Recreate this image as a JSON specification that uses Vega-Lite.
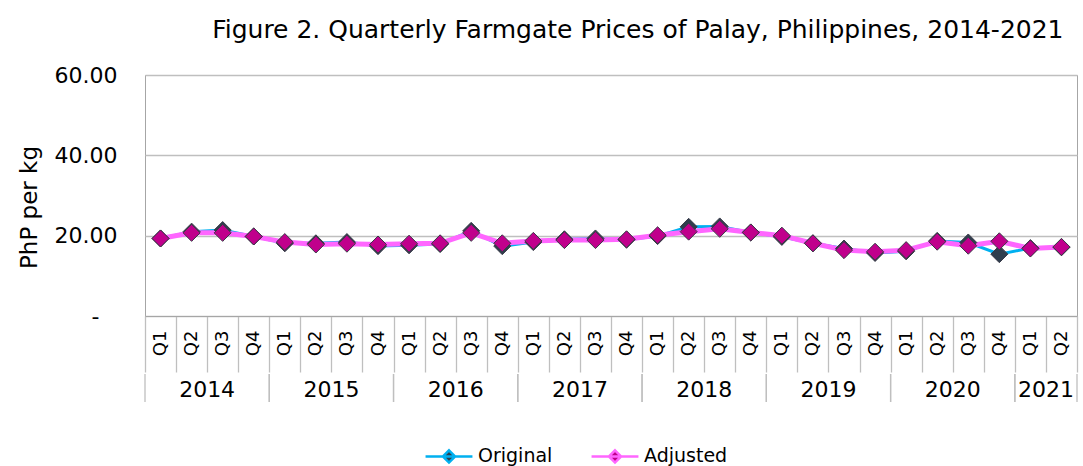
{
  "$schema": "https://vega.github.io/schema/vega-lite/v6.json",
  "padding": {"left": 17, "top": 17, "right": 5, "bottom": 5},
  "background": "white",
  "config": {"font": "DejaVu Sans"},
  "title": {"text": "Figure 2. Quarterly Farmgate Prices of Palay, Philippines, 2014-2021", "font": "DejaVu Sans", "fontSize": 25, "fontWeight": "normal", "color": "#000000", "anchor": "middle", "dx": 90, "offset": 21},
  "datasets": {
    "prices": [
      {"period": "2014 Q1", "series": "Original", "price": 19.3},
      {"period": "2014 Q2", "series": "Original", "price": 21.0},
      {"period": "2014 Q3", "series": "Original", "price": 21.4},
      {"period": "2014 Q4", "series": "Original", "price": 19.8},
      {"period": "2015 Q1", "series": "Original", "price": 18.1},
      {"period": "2015 Q2", "series": "Original", "price": 18.1},
      {"period": "2015 Q3", "series": "Original", "price": 18.4},
      {"period": "2015 Q4", "series": "Original", "price": 17.4},
      {"period": "2016 Q1", "series": "Original", "price": 17.6},
      {"period": "2016 Q2", "series": "Original", "price": 17.9},
      {"period": "2016 Q3", "series": "Original", "price": 21.2},
      {"period": "2016 Q4", "series": "Original", "price": 17.4},
      {"period": "2017 Q1", "series": "Original", "price": 18.4},
      {"period": "2017 Q2", "series": "Original", "price": 19.1},
      {"period": "2017 Q3", "series": "Original", "price": 19.3},
      {"period": "2017 Q4", "series": "Original", "price": 19.0},
      {"period": "2018 Q1", "series": "Original", "price": 19.9},
      {"period": "2018 Q2", "series": "Original", "price": 22.2},
      {"period": "2018 Q3", "series": "Original", "price": 22.3},
      {"period": "2018 Q4", "series": "Original", "price": 20.8},
      {"period": "2019 Q1", "series": "Original", "price": 19.7},
      {"period": "2019 Q2", "series": "Original", "price": 18.1},
      {"period": "2019 Q3", "series": "Original", "price": 16.8},
      {"period": "2019 Q4", "series": "Original", "price": 15.7},
      {"period": "2020 Q1", "series": "Original", "price": 16.1},
      {"period": "2020 Q2", "series": "Original", "price": 18.7},
      {"period": "2020 Q3", "series": "Original", "price": 18.3},
      {"period": "2020 Q4", "series": "Original", "price": 15.4},
      {"period": "2021 Q1", "series": "Original", "price": 16.9},
      {"period": "2021 Q2", "series": "Original", "price": 17.1},
      {"period": "2014 Q1", "series": "Adjusted", "price": 19.3},
      {"period": "2014 Q2", "series": "Adjusted", "price": 20.7},
      {"period": "2014 Q3", "series": "Adjusted", "price": 20.7},
      {"period": "2014 Q4", "series": "Adjusted", "price": 19.8},
      {"period": "2015 Q1", "series": "Adjusted", "price": 18.4},
      {"period": "2015 Q2", "series": "Adjusted", "price": 17.8},
      {"period": "2015 Q3", "series": "Adjusted", "price": 18.0},
      {"period": "2015 Q4", "series": "Adjusted", "price": 17.8},
      {"period": "2016 Q1", "series": "Adjusted", "price": 18.0},
      {"period": "2016 Q2", "series": "Adjusted", "price": 18.1},
      {"period": "2016 Q3", "series": "Adjusted", "price": 20.7},
      {"period": "2016 Q4", "series": "Adjusted", "price": 18.1},
      {"period": "2017 Q1", "series": "Adjusted", "price": 18.7},
      {"period": "2017 Q2", "series": "Adjusted", "price": 18.9},
      {"period": "2017 Q3", "series": "Adjusted", "price": 18.9},
      {"period": "2017 Q4", "series": "Adjusted", "price": 19.1},
      {"period": "2018 Q1", "series": "Adjusted", "price": 20.1},
      {"period": "2018 Q2", "series": "Adjusted", "price": 21.0},
      {"period": "2018 Q3", "series": "Adjusted", "price": 21.7},
      {"period": "2018 Q4", "series": "Adjusted", "price": 20.8},
      {"period": "2019 Q1", "series": "Adjusted", "price": 20.0},
      {"period": "2019 Q2", "series": "Adjusted", "price": 18.1},
      {"period": "2019 Q3", "series": "Adjusted", "price": 16.4},
      {"period": "2019 Q4", "series": "Adjusted", "price": 16.0},
      {"period": "2020 Q1", "series": "Adjusted", "price": 16.4},
      {"period": "2020 Q2", "series": "Adjusted", "price": 18.5},
      {"period": "2020 Q3", "series": "Adjusted", "price": 17.5},
      {"period": "2020 Q4", "series": "Adjusted", "price": 18.6},
      {"period": "2021 Q1", "series": "Adjusted", "price": 16.8},
      {"period": "2021 Q2", "series": "Adjusted", "price": 17.2}
    ],
    "years": [
      {"year": "2014", "anchor": "2014 Q3", "start": "2014 Q1", "last": "2014 Q4"},
      {"year": "2015", "anchor": "2015 Q3", "start": "2015 Q1", "last": "2015 Q4"},
      {"year": "2016", "anchor": "2016 Q3", "start": "2016 Q1", "last": "2016 Q4"},
      {"year": "2017", "anchor": "2017 Q3", "start": "2017 Q1", "last": "2017 Q4"},
      {"year": "2018", "anchor": "2018 Q3", "start": "2018 Q1", "last": "2018 Q4"},
      {"year": "2019", "anchor": "2019 Q3", "start": "2019 Q1", "last": "2019 Q4"},
      {"year": "2020", "anchor": "2020 Q3", "start": "2020 Q1", "last": "2020 Q4"},
      {"year": "2021", "anchor": "2021 Q2", "start": "2021 Q1", "last": "2021 Q2"}
    ]
  },
  "spacing": -8,
  "vconcat": [
    {
      "width": 932,
      "height": 241,
      "view": {"stroke": "#a6a6a6"},
      "data": {"name": "prices"},
      "encoding": {
        "x": {
          "field": "period", "type": "ordinal",
          "scale": {"domain": ["2014 Q1","2014 Q2","2014 Q3","2014 Q4","2015 Q1","2015 Q2","2015 Q3","2015 Q4","2016 Q1","2016 Q2","2016 Q3","2016 Q4","2017 Q1","2017 Q2","2017 Q3","2017 Q4","2018 Q1","2018 Q2","2018 Q3","2018 Q4","2019 Q1","2019 Q2","2019 Q3","2019 Q4","2020 Q1","2020 Q2","2020 Q3","2020 Q4","2021 Q1","2021 Q2"], "paddingInner": 0, "paddingOuter": 0},
          "axis": {"title": null, "labelExpr": "split(datum.value, ' ')[1]", "labelAngle": 270, "labelFontSize": 18, "labelFont": "DejaVu Sans", "labelColor": "#000000", "labelPadding": -42, "tickBand": "extent", "tickSize": 56, "tickColor": "#bfbfbf", "tickWidth": 1.3, "domainColor": "#a6a6a6", "grid": false}
        },
        "y": {
          "field": "price", "type": "quantitative",
          "scale": {"domain": [0, 60], "nice": false},
          "axis": {"values": [0, 20, 40, 60], "labelExpr": "datum.value == 0 ? '-' : format(datum.value, '.2f')", "title": "PhP per kg", "titleFont": "DejaVu Sans", "titleFontSize": 23, "titleFontWeight": "normal", "titleColor": "#000000", "titleY": 132, "labelFont": "DejaVu Sans", "labelFontSize": 22, "labelColor": "#000000", "ticks": false, "domain": false, "labelPadding": {"condition": {"test": "datum.value == 0", "value": 46}, "value": 28}, "titlePadding": 13, "gridColor": "#bfbfbf", "gridWidth": 1.3}
        },
        "stroke": {"field": "series", "type": "nominal", "scale": {"domain": ["Original", "Adjusted"], "range": ["#00b0f0", "#ff66ff"]},
          "legend": {"title": null, "orient": "none", "legendX": 279, "legendY": 356, "direction": "horizontal", "symbolType": "M-1,0L1,0M0,-0.26L0.26,0L0,0.26L-0.26,0Z", "symbolSize": 2200, "symbolStrokeWidth": 2.5, "labelFont": "DejaVu Sans", "labelFontSize": 19, "labelColor": "#000000", "labelOffset": 4, "columnPadding": 33,
            "encode": {"symbols": {"update": {"fill": {"scale": "fill", "field": "value"}, "fillOpacity": {"value": 1}}}}}}
      },
      "layer": [
        {
          "transform": [{"filter": "datum.series == 'Original'"}],
          "mark": {"type": "line", "strokeWidth": 3}
        },
        {
          "transform": [{"filter": "datum.series == 'Adjusted'"}],
          "mark": {"type": "line", "strokeWidth": 5}
        },
        {
          "mark": {"type": "point", "shape": "diamond", "filled": true, "size": 290, "opacity": 1, "stroke": "#3a3a48", "strokeWidth": 1},
          "encoding": {
            "stroke": {"value": "#3a3a48"},
            "fill": {"field": "series", "type": "nominal", "scale": {"domain": ["Original", "Adjusted"], "range": ["#2f3e4e", "#c0008c"]}, "legend": null}
          }
        }
      ]
    },
    {
      "width": 932,
      "height": 28,
      "view": {"stroke": null},
      "data": {"name": "years"},
      "encoding": {
        "x": {"field": "anchor", "type": "ordinal",
          "scale": {"domain": ["2014 Q1","2014 Q2","2014 Q3","2014 Q4","2015 Q1","2015 Q2","2015 Q3","2015 Q4","2016 Q1","2016 Q2","2016 Q3","2016 Q4","2017 Q1","2017 Q2","2017 Q3","2017 Q4","2018 Q1","2018 Q2","2018 Q3","2018 Q4","2019 Q1","2019 Q2","2019 Q3","2019 Q4","2020 Q1","2020 Q2","2020 Q3","2020 Q4","2021 Q1","2021 Q2"], "paddingInner": 0, "paddingOuter": 0},
          "axis": null}
      },
      "layer": [
        {
          "mark": {"type": "rule", "color": "#bfbfbf", "strokeWidth": 1.3},
          "encoding": {"x": {"field": "start", "type": "ordinal", "bandPosition": 0}}
        },
        {
          "mark": {"type": "rule", "color": "#bfbfbf", "strokeWidth": 1.3},
          "encoding": {"x": {"field": "last", "type": "ordinal", "bandPosition": 1}}
        },
        {
          "mark": {"type": "text", "font": "DejaVu Sans", "fontSize": 22, "color": "#000000", "baseline": "middle", "dy": 2},
          "encoding": {"x": {"field": "anchor", "type": "ordinal", "bandPosition": 0}, "text": {"field": "year"}}
        }
      ]
    }
  ]
}
